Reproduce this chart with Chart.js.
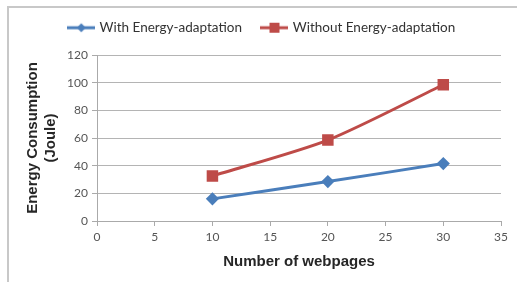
<!DOCTYPE html>
<html><head><meta charset="utf-8">
<script src="https://cdn.jsdelivr.net/npm/chart.js@4/dist/chart.umd.min.js"></script>
<style>
html,body{margin:0;padding:0;background:#fff;}
#wrap{position:relative;width:517px;height:282px;}
</style></head><body>
<div id="wrap"><canvas id="c" width="517" height="282"></canvas></div>
<script>
const xValues = [10, 20, 30];
const withAdapt = [16, 28.5, 41.5];
const withoutAdapt = [32.5, 58.5, 98.5];
const seriesNames = ['With Energy-adaptation', 'Without Energy-adaptation'];
const xTitle = 'Number of webpages';
const yTitle = ['Energy Consumption', '(Joule)'];

function legendIcon(color, shape){
  const c = document.createElement('canvas');
  c.width = 28; c.height = 12;
  const g = c.getContext('2d');
  g.strokeStyle = color; g.lineWidth = 3;
  g.beginPath(); g.moveTo(0,6); g.lineTo(28,6); g.stroke();
  g.fillStyle = color;
  if (shape === 'diamond'){
    g.beginPath(); g.moveTo(14,1.5); g.lineTo(18.5,6); g.lineTo(14,10.5); g.lineTo(9.5,6); g.closePath(); g.fill();
  } else {
    g.fillRect(9,1,10,10);
  }
  return c;
}
const blue = '#4a7ebb', red = '#be4b48';
const icons = [legendIcon(blue,'diamond'), legendIcon(red,'rect')];

const frame = {
  id:'frame',
  beforeDraw(chart){
    const g = chart.ctx;
    g.save(); g.fillStyle='#fff'; g.fillRect(0,0,chart.width,chart.height);
    g.strokeStyle='#c8c8c8'; g.lineWidth=2;
    g.beginPath(); g.moveTo(8,282); g.lineTo(8,7); g.lineTo(517,7); g.stroke();
    g.restore();
  }
};
const legendGap = {
  id:'legendGap',
  beforeLayout(chart){
    const lg = chart.legend;
    if (lg && !lg._gapPatched){
      const f = lg.fit.bind(lg);
      lg.fit = function(){ f(); this.height = 55; };
      lg._gapPatched = true;
    }
  }
};

new Chart(document.getElementById('c'), {
  type:'line',
  data:{
    datasets:[
      {label:seriesNames[0], data:xValues.map((x,i)=>({x, y:withAdapt[i]})), borderColor:blue, backgroundColor:blue,
       borderWidth:3, pointStyle:'rectRot', pointRadius:4.5, pointHoverRadius:4.5, tension:0.25},
      {label:seriesNames[1], data:xValues.map((x,i)=>({x, y:withoutAdapt[i]})), borderColor:red, backgroundColor:red,
       borderWidth:3, pointStyle:'rect', pointRadius:6, pointHoverRadius:6, tension:0.25}
    ]
  },
  options:{
    responsive:false, animation:false, devicePixelRatio:1,
    layout:{padding:{left:24, right:16, top:0, bottom:11}},
    plugins:{
      tooltip:{enabled:false},
      legend:{
        position:'top',
        labels:{
          usePointStyle:true,
          pointStyleWidth:23,
          generateLabels(chart){
            return chart.data.datasets.map((d,i)=>({text:d.label, pointStyle:icons[i], fillStyle:d.borderColor, strokeStyle:d.borderColor, lineWidth:0, datasetIndex:i, fontColor:'#333'}));
          },
          font:{family:'Lato', size:13.5}, color:'#333', padding:21, boxHeight:12
        }
      }
    },
    scales:{
      x:{
        type:'linear', min:0, max:35,
        ticks:{stepSize:5, color:'#555', font:{family:'Lato', size:12}, padding:4},
        grid:{display:true, drawOnChartArea:false, drawTicks:true, tickLength:5, color:'#aaa'},
        border:{color:'#aaa', width:1},
        title:{display:true, text:xTitle, color:'#262626', font:{family:'Liberation Sans', size:15, weight:'bold'}, padding:{top:4,bottom:0}},
        afterFit(s){ s.height = 50; }
      },
      y:{
        min:0, max:120,
        ticks:{stepSize:20, color:'#555', font:{family:'Lato', size:12}, padding:4},
        grid:{color:'#b4b4b4', lineWidth:1, drawTicks:true, tickLength:5, tickColor:'#aaa'},
        border:{color:'#aaa', width:1},
        title:{display:true, text:yTitle, color:'#262626', font:{family:'Liberation Sans', size:15, weight:'bold'}, padding:{top:0,bottom:4}},
        afterFit(s){ s.width = 73; }
      }
    }
  },
  plugins:[frame, legendGap]
});
</script>
</body></html>
